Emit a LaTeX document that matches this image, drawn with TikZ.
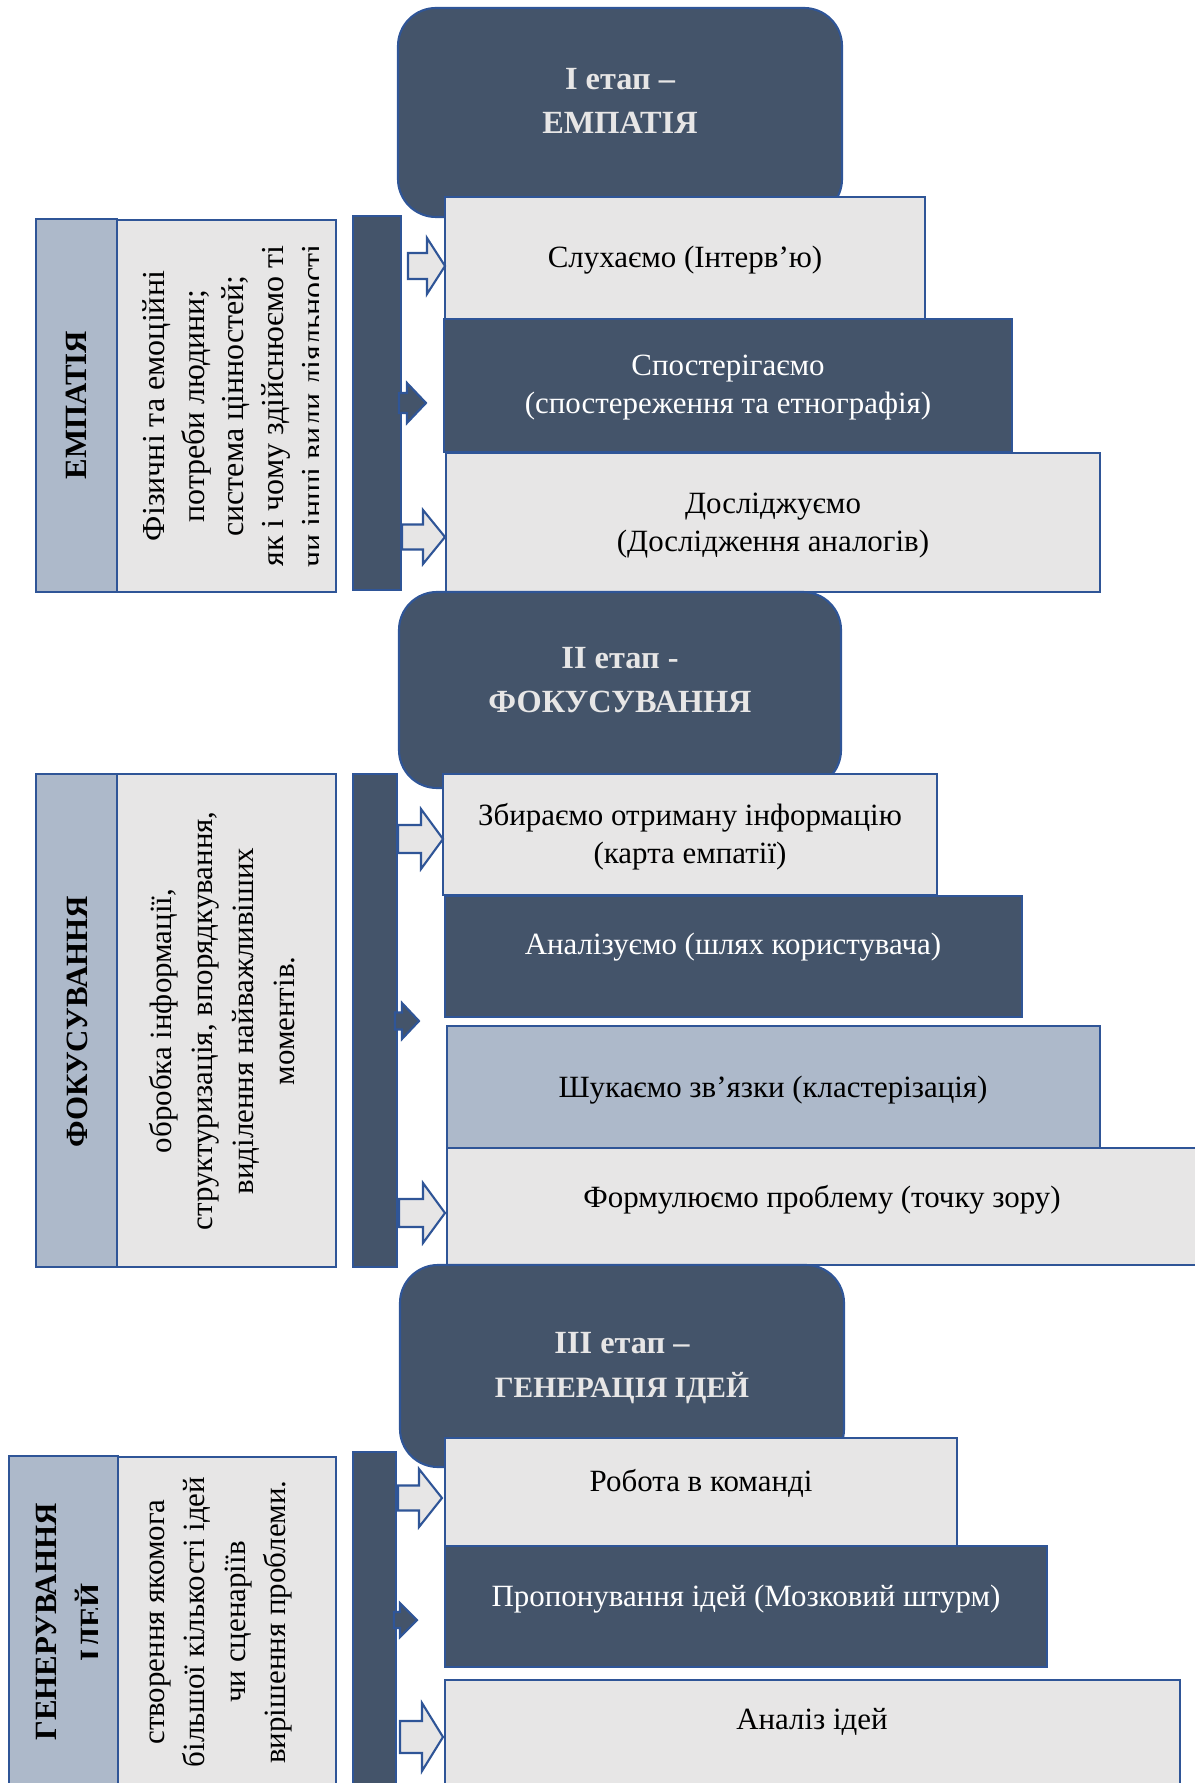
\documentclass[tikz,border=0pt]{standalone}
\usepackage{fontspec}
\setmainfont{Liberation Serif}
\usepackage{tikz}
\definecolor{darkslate}{HTML}{44546A}
\definecolor{lightgrey}{HTML}{E7E6E6}
\definecolor{midslate}{HTML}{ADB9CA}
\definecolor{rimblue}{HTML}{2F5597}
\def\blockarrow[#1](#2,#3)(#4:#5:#6:#7){\draw[#1] (#2,#3-#6) -- (#4,#3-#6) -- (#4,#3-#7) -- (#5,#3) -- (#4,#3+#7) -- (#4,#3+#6) -- (#2,#3+#6) -- cycle;}

\begin{document}
\begin{tikzpicture}[x=0.1mm, y=-0.1mm,
    rim/.style={draw=rimblue, line width=0.6pt},
    pale/.style={rim, fill=lightgrey},
    dusk/.style={rim, fill=darkslate},
    haze/.style={rim, fill=midslate},
    stagebox/.style={dusk, rounded corners=3.8mm},
    stagetext/.style={align=center, text=lightgrey, font=\fontsize{9.2}{12.5}\selectfont\bfseries},
    boxtext/.style={align=center, font=\fontsize{8.8}{10.8}\selectfont},
    darktext/.style={boxtext, text=white},
    sidehead/.style={rotate=90, align=center, font=\fontsize{8.8}{12.8}\selectfont\bfseries},
    sidetext/.style={rotate=90, align=center, font=\fontsize{8.8}{10.8}\selectfont}]
			%%%%% START %%%%%
			\useasboundingbox (0,0) rectangle (1195,1783);
			
			% I etap
			\draw[haze] (36,219) rectangle (117,592);
			\draw[pale] (117,220) rectangle (336,592);
			\draw[dusk] (353,216) rectangle (401,590);
			\draw[stagebox] (398,8) rectangle (842,217);
			\draw[pale] (445,197) rectangle (925,319);
			\draw[dusk] (444,319) rectangle (1012,452);
			\draw[pale] (446,453) rectangle (1100,592);
			\blockarrow[pale](408,266)(427:445:13:28)
			\blockarrow[dusk](399,403)(407:426:10:20)
			\blockarrow[pale](402,537)(423:445:12.5:27)
			
			\node[stagetext] (stageone) at (620,101) {I етап –\\ЕМПАТІЯ};
			\node[boxtext] (listen) at (685,260) {Слухаємо (Інтерв’ю)};
			\node[darktext] (observe) at (728,388) {Спостерігаємо\\(спостереження та етнографія)};
			\node[boxtext] (explore) at (773,526) {Досліджуємо\\(Дослідження аналогів)};
			\node[sidehead] (empathy) at (76,405) {ЕМПАТІЯ};
			\begin{scope}
				\clip (117,220) rectangle (318,592);
				\node[sidetext, font=\fontsize{9.1}{11.3}\selectfont] (needs) at (236,406) {Фізичні та емоційні\\потреби людини;\\система цінностей;\\як і чому здійснюємо ті\\чи інші види діяльності};
			\end{scope}
			
			% II etap
			\draw[haze] (36,774) rectangle (117,1267);
			\draw[pale] (117,774) rectangle (336,1267);
			\draw[dusk] (353,774) rectangle (397,1267);
			\draw[stagebox] (399,592) rectangle (841,788);
			\draw[pale] (443,774) rectangle (937,895);
			\draw[dusk] (445,896) rectangle (1022,1017);
			\draw[haze] (447,1026) rectangle (1100,1148);
			\draw[pale] (447,1148) rectangle (1200,1265);
			\blockarrow[pale](398,839)(421:443:14:30)
			\blockarrow[dusk](395,1021)(402:419:8.5:18)
			\blockarrow[pale](399,1213)(423:445:14:30)
			
			\node[stagetext] (stagetwo) at (620,680) {II етап -\\ФОКУСУВАННЯ};
			\node[boxtext] (gather) at (690,837) {Збираємо отриману інформацію\\(карта емпатії)};
			\node[darktext] (analyse) at (733,947) {Аналізуємо (шлях користувача)};
			\node[boxtext] (cluster) at (773,1090) {Шукаємо зв’язки (кластерізація)};
			\node[boxtext] (define) at (822,1200) {Формулюємо проблему (точку зору)};
			\node[sidehead] (focus) at (77,1022) {ФОКУСУВАННЯ};
			\begin{scope}
				\clip (117,774) rectangle (318,1267);
				\node[sidetext, font=\fontsize{8.8}{11.7}\selectfont] (sorting) at (222,1021) {обробка інформації,\\структуризація, впорядкування,\\виділення найважливіших\\моментів.};
			\end{scope}
			
			% III etap
			\draw[haze] (9,1456) rectangle (118,1800);
			\draw[pale] (118,1457) rectangle (336,1787);
			\draw[dusk] (353,1452) rectangle (396,1800);
			\draw[stagebox] (400,1265) rectangle (844,1467);
			\draw[pale] (445,1438) rectangle (957,1546);
			\draw[dusk] (445,1546) rectangle (1047,1667);
			\draw[pale] (445,1680) rectangle (1180,1800);
			\blockarrow[pale](398,1498)(419:442:12.5:29)
			\blockarrow[dusk](394,1620)(400:417:8:17)
			\blockarrow[pale](400,1737)(422:443:16:34)
			
			\node[stagetext] (stagethree) at (622,1368) {III етап –\\{\fontsize{8.4}{12.5}\selectfont ГЕНЕРАЦІЯ ІДЕЙ}};
			\node[boxtext] (team) at (701,1483) {Робота в команді};
			\node[darktext] (brainstorm) at (746,1599) {Пропонування ідей (Мозковий штурм)};
			\node[boxtext] (review) at (812,1722) {Аналіз ідей};
			\begin{scope}
				\clip (9,1456) rectangle (97,1800);
				\node[sidehead] (ideation) at (72,1622) {ГЕНЕРУВАННЯ\\ІДЕЙ};
			\end{scope}
			\begin{scope}
				\clip (118,1457) rectangle (318,1787);
				\node[sidetext, font=\fontsize{8.8}{11.4}\selectfont] (ideas) at (221,1622) {створення якомога\\більшої кількості ідей\\чи сценаріїв\\вирішення проблеми.};
			\end{scope}
			%%%%% END %%%%%
\end{tikzpicture}
\end{document}
